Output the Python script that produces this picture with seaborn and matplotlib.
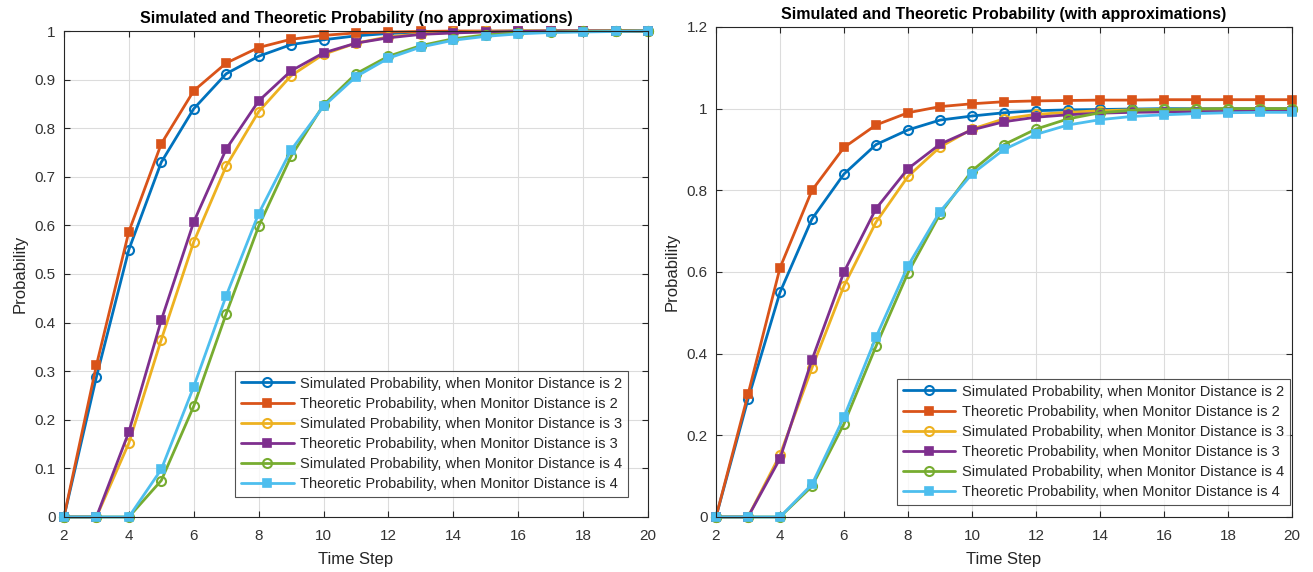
import numpy as np
import pandas as pd
import matplotlib
matplotlib.use("Agg")
import matplotlib.pyplot as plt
import seaborn as sns

steps = list(range(2, 21))

# Left panel: no approximations
left_sim2 = [0, 0.288, 0.55, 0.73, 0.84, 0.912, 0.948, 0.972, 0.982, 0.99, 0.995, 0.997, 0.998, 0.999, 1, 1, 1, 1, 1]
left_theo2 = [0, 0.312, 0.587, 0.768, 0.877, 0.934, 0.966, 0.983, 0.991, 0.996, 0.998, 0.999, 1, 1, 1, 1, 1, 1, 1]
left_sim3 = [0, 0, 0.152, 0.365, 0.566, 0.722, 0.834, 0.908, 0.952, 0.975, 0.988, 0.994, 0.997, 0.999, 1, 1, 1, 1, 1]
left_theo3 = [0, 0, 0.175, 0.405, 0.607, 0.757, 0.856, 0.918, 0.955, 0.975, 0.986, 0.993, 0.996, 0.998, 0.999, 1, 1, 1, 1]
left_sim4 = [0, 0, 0, 0.075, 0.228, 0.418, 0.598, 0.742, 0.848, 0.912, 0.948, 0.97, 0.984, 0.992, 0.996, 0.998, 0.999, 1, 1]
left_theo4 = [0, 0, 0, 0.098, 0.268, 0.455, 0.624, 0.755, 0.845, 0.906, 0.944, 0.967, 0.981, 0.989, 0.994, 0.997, 0.998, 0.999, 1]

# Right panel: with approximations
right_sim2 = [0, 0.288, 0.55, 0.73, 0.84, 0.912, 0.948, 0.972, 0.982, 0.99, 0.995, 0.997, 0.998, 0.999, 1, 1, 1, 1, 1]
right_theo2 = [0, 0.30, 0.61, 0.80, 0.905, 0.96, 0.99, 1.005, 1.012, 1.017, 1.019, 1.02, 1.021, 1.021, 1.022, 1.022, 1.022, 1.022, 1.022]
right_sim3 = [0, 0, 0.152, 0.365, 0.566, 0.722, 0.834, 0.906, 0.95, 0.975, 0.986, 0.991, 0.995, 0.997, 0.998, 0.999, 0.999, 0.999, 0.999]
right_theo3 = [0, 0, 0.143, 0.385, 0.60, 0.755, 0.853, 0.913, 0.948, 0.968, 0.979, 0.985, 0.989, 0.991, 0.992, 0.993, 0.993, 0.994, 0.994]
right_sim4 = [0, 0, 0, 0.075, 0.228, 0.418, 0.598, 0.742, 0.848, 0.912, 0.95, 0.975, 0.99, 0.996, 0.998, 0.999, 1, 1, 1]
right_theo4 = [0, 0, 0, 0.08, 0.245, 0.44, 0.615, 0.748, 0.84, 0.9, 0.937, 0.96, 0.973, 0.981, 0.985, 0.988, 0.99, 0.991, 0.991]

labels = [
    "Simulated Probability, when Monitor Distance is 2",
    "Theoretic Probability, when Monitor Distance is 2",
    "Simulated Probability, when Monitor Distance is 3",
    "Theoretic Probability, when Monitor Distance is 3",
    "Simulated Probability, when Monitor Distance is 4",
    "Theoretic Probability, when Monitor Distance is 4",
]
colors = ["#0072BD", "#D95319", "#EDB120", "#7E2F8E", "#77AC30", "#4DBEEE"]
x_ticks = list(range(2, 21, 2))
left_yticks = [round(0.1 * i, 1) for i in range(11)]
left_ylabels = ["0", "0.1", "0.2", "0.3", "0.4", "0.5", "0.6", "0.7", "0.8", "0.9", "1"]
right_yticks = [0, 0.2, 0.4, 0.6, 0.8, 1.0, 1.2]
right_ylabels = ["0", "0.2", "0.4", "0.6", "0.8", "1", "1.2"]

sns.set_theme(style="white")
plt.rcParams["font.family"] = ["Liberation Sans", "DejaVu Sans"]

fig = plt.figure(figsize=(13.13, 5.72), dpi=100)
ax1 = fig.add_axes([0.0487, 0.0962, 0.4448, 0.8496])
ax2 = fig.add_axes([0.5453, 0.0962, 0.4387, 0.8566])

txt = "#262626"

def draw(ax, series, title, yticks, ylabels, ymax, anchor):
    for i, (vals, lab, col) in enumerate(zip(series, labels, colors)):
        df = pd.DataFrame({"step": steps, "p": vals})
        if i % 2 == 0:
            sns.lineplot(data=df, x="step", y="p", ax=ax, color=col, label=lab,
                         linewidth=2, marker="o", markersize=6.5,
                         markerfacecolor="none", markeredgecolor=col,
                         markeredgewidth=1.5, errorbar=None)
        else:
            sns.lineplot(data=df, x="step", y="p", ax=ax, color=col, label=lab,
                         linewidth=2, marker="s", markersize=6,
                         markerfacecolor=col, markeredgecolor=col,
                         markeredgewidth=1.2, errorbar=None)
    ax.set_xlim(2, 20)
    ax.set_ylim(0, ymax)
    ax.set_xticks(x_ticks)
    ax.set_xticklabels([str(t) for t in x_ticks])
    ax.set_yticks(yticks)
    ax.set_yticklabels(ylabels)
    ax.grid(True, color="#dcdcdc", linewidth=0.8)
    ax.tick_params(direction="in", length=4, width=0.8, colors=txt,
                   labelsize=11, top=True, right=True, bottom=True, left=True,
                   labelcolor="#333333")
    ax.tick_params(axis="x", pad=9)
    ax.tick_params(axis="y", pad=6)
    for s in ax.spines.values():
        s.set_color(txt)
        s.set_linewidth(0.8)
    ax.set_xlabel("Time Step", fontsize=12, color=txt, labelpad=6)
    ax.set_ylabel("Probability", fontsize=12, color=txt, labelpad=5)
    ax.set_title(title, fontsize=11.5, fontweight="bold", color="black", pad=6)
    leg = ax.legend(loc="lower right", fontsize=10.5, frameon=True, fancybox=False,
                    edgecolor=txt, handlelength=3.6, borderpad=0.4,
                    labelspacing=0.42, handletextpad=0.45, borderaxespad=0,
                    bbox_to_anchor=anchor)
    leg.get_frame().set_linewidth(0.8)
    for t in leg.get_texts():
        t.set_color(txt)

draw(ax1, [left_sim2, left_theo2, left_sim3, left_theo3, left_sim4, left_theo4],
     "Simulated and Theoretic Probability (no approximations)",
     left_yticks, left_ylabels, 1.0, (0.966, 0.041))
draw(ax2, [right_sim2, right_theo2, right_sim3, right_theo3, right_sim4, right_theo4],
     "Simulated and Theoretic Probability (with approximations)",
     right_yticks, right_ylabels, 1.2, (0.9965, 0.0245))

for ax in (ax1, ax2):
    for line in ax.get_lines():
        line.set_clip_on(False)

fig.savefig("out.png", dpi=100)
